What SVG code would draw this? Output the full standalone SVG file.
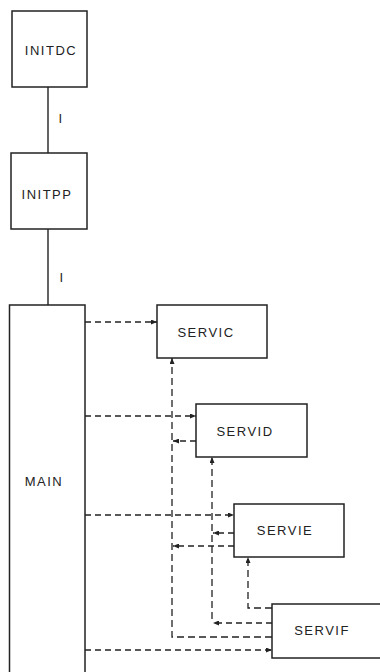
<svg xmlns="http://www.w3.org/2000/svg" width="380" height="672" viewBox="0 0 380 672">
<style>
.box{fill:#fff;stroke:#222;stroke-width:1.5}
.t{font-family:"Liberation Sans",Arial,sans-serif;font-size:13px;letter-spacing:1.5px;fill:#222;text-anchor:middle;dominant-baseline:central}
.s{fill:none;stroke:#222;stroke-width:1.4}
.d{fill:none;stroke:#222;stroke-width:1.3;stroke-dasharray:6,4}
.v{fill:none;stroke:#222;stroke-width:1.3;stroke-dasharray:7,4}
</style>
<defs>
<marker id="a" markerWidth="6" markerHeight="5" refX="6" refY="2.5" orient="auto" markerUnits="userSpaceOnUse">
<path d="M0,0 L6,2.5 L0,5 Z" fill="#222"/>
</marker>
</defs>
<rect width="380" height="672" fill="#fff"/>
<g id="connectors">
<line class="s" x1="48" y1="87" x2="48" y2="153"/>
<line class="s" x1="48" y1="229" x2="48" y2="305"/>
<line class="d" x1="85" y1="322" x2="157" y2="322" marker-end="url(#a)"/>
<line class="d" x1="85" y1="416" x2="196" y2="416" marker-end="url(#a)"/>
<line class="d" x1="85" y1="515" x2="234" y2="515" marker-end="url(#a)"/>
<line class="d" x1="85" y1="650" x2="272" y2="650" marker-end="url(#a)"/>
<path class="v" d="M272,637 H172 V358" marker-end="url(#a)"/>
<line class="d" x1="196" y1="441" x2="173" y2="441" marker-end="url(#a)"/>
<line class="d" x1="234" y1="546" x2="173" y2="546" marker-end="url(#a)"/>
<line class="d" x1="272" y1="623" x2="213" y2="623" marker-end="url(#a)"/>
<line class="v" x1="212" y1="619" x2="212" y2="457" marker-end="url(#a)"/>
<line class="d" x1="234" y1="533" x2="213" y2="533" marker-end="url(#a)"/>
<path class="v" d="M272,608 H248 V557" marker-end="url(#a)"/>
<text class="t" x="61" y="118">I</text>
<text class="t" x="62" y="277">I</text>
</g>
<g id="INITDC"><rect class="box" x="12" y="11" width="75" height="76"/><text class="t" x="51" y="50">INITDC</text></g>
<g id="INITPP"><rect class="box" x="11" y="153" width="76" height="76"/><text class="t" x="47" y="194">INITPP</text></g>
<g id="MAIN"><rect class="box" x="9.5" y="305" width="75.5" height="380"/><text class="t" x="44" y="481">MAIN</text></g>
<g id="SERVIC"><rect class="box" x="157" y="305" width="110" height="53"/><text class="t" x="206" y="332">SERVIC</text></g>
<g id="SERVID"><rect class="box" x="196" y="404" width="111" height="53"/><text class="t" x="245" y="431">SERVID</text></g>
<g id="SERVIE"><rect class="box" x="234" y="504" width="110" height="53"/><text class="t" x="285" y="530">SERVIE</text></g>
<g id="SERVIF"><rect class="box" x="272" y="604" width="120" height="54"/><text class="t" x="322" y="630">SERVIF</text></g>
</svg>
